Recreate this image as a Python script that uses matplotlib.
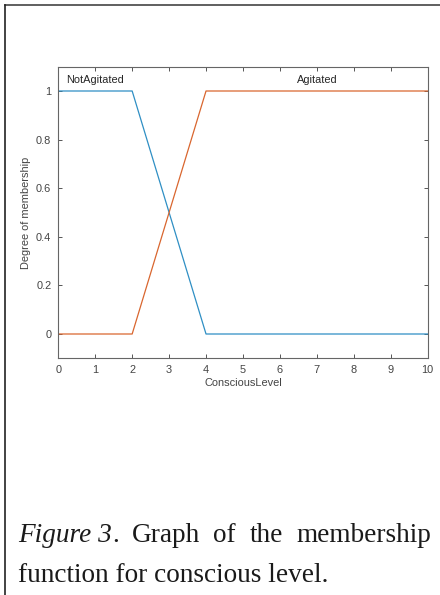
import numpy as np
import matplotlib.pyplot as plt
import matplotlib
from matplotlib.lines import Line2D

matplotlib.rcParams['font.family'] = ['Arial', 'Liberation Sans', 'DejaVu Sans']

# trapezoidal membership functions for ConsciousLevel
level = [0, 2, 4, 10]
not_agitated = [1, 1, 0, 0]
agitated = [0, 0, 1, 1]
mf_names = ['NotAgitated', 'Agitated']
label_pos = [1, 7]

xticks = list(range(0, 11))
yticks = [0, 0.2, 0.4, 0.6, 0.8, 1]

W, H = 440, 595
fig = plt.figure(figsize=(W / 100, H / 100), dpi=100)
ax = fig.add_axes([58.3 / W, 1 - 358.3 / H, 369.3 / W, 291.6 / H])

ax.plot(level, not_agitated, color='#2f8fc4', lw=0.9)
ax.plot(level, agitated, color='#d9662f', lw=0.9)

fs = 7.9
for name, xpos in zip(mf_names, label_pos):
    ax.text(xpos, 1.045, name, ha='center', va='center', fontsize=fs, color='#262626')

ax.set_xlim(0, 10)
ax.set_ylim(-0.1, 1.1)
ax.set_xticks(xticks)
ax.set_yticks(yticks)
ax.set_xticklabels([str(t) for t in xticks])
ax.set_yticklabels(['0', '0.2', '0.4', '0.6', '0.8', '1'])
ax.tick_params(direction='in', top=True, right=True, length=3, width=0.7,
               color='#555555', labelcolor='#444444', labelsize=fs, pad=5)
for s in ax.spines.values():
    s.set_color('#666666')
    s.set_linewidth(0.8)

ax.set_xlabel('ConsciousLevel', fontsize=fs, color='#444444', labelpad=2)
ax.set_ylabel('Degree of membership', fontsize=fs, color='#444444', labelpad=4)

# caption, first line justified to the right margin
cap_kw = dict(fontsize=19.6, color='#1a1a1a', family=['Liberation Serif', 'DejaVu Serif'],
              va='baseline')
renderer = fig.canvas.get_renderer()
words = [('Figure 3', 'italic'), ('.', 'normal'), ('Graph', 'normal'), ('of', 'normal'),
         ('the', 'normal'), ('membership', 'normal')]
left, right = 18, 431
y1 = 1 - 542 / H
texts = [fig.text(0, y1, w, style=st, **cap_kw) for w, st in words]
widths = [t.get_window_extent(renderer).width for t in texts]
# "Figure 3" and "." are glued together, gaps go between the other words
n_gaps = len(words) - 2
gap = (right - left - sum(widths)) / n_gaps
x = left
for i, (t, w) in enumerate(zip(texts, widths)):
    t.set_x(x / W)
    x += w
    if i >= 1:
        x += gap
fig.text(left / W, 1 - 582 / H, 'function for conscious level.', **cap_kw)

# frame lines at top and left
fig.add_artist(Line2D([4.5 / W, 1], [1 - 5 / H, 1 - 5 / H], color='#444444', lw=1.2))
fig.add_artist(Line2D([4.5 / W, 4.5 / W], [0, 1 - 5 / H], color='#222222', lw=1.2))

fig.savefig('out.png', dpi=100)
